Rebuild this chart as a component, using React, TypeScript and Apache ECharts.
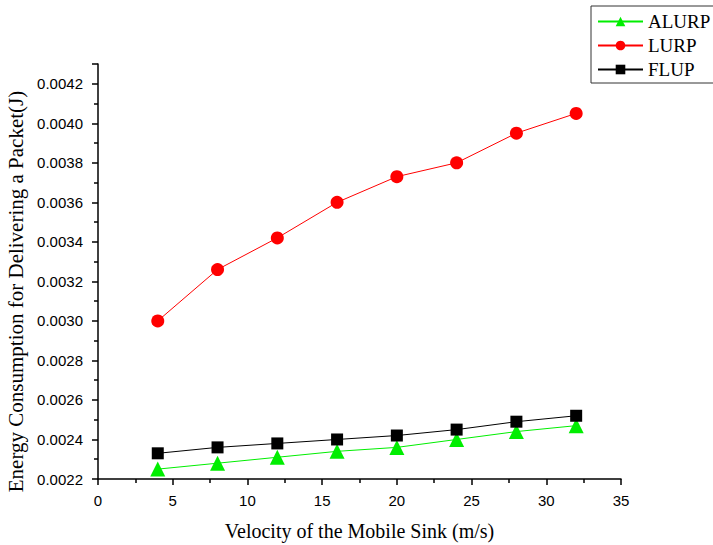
import React, { useEffect, useRef } from "react";
import * as echarts from "echarts";

const velocities = [4, 8, 12, 16, 20, 24, 28, 32];
const alurp = [0.00225, 0.00228, 0.00231, 0.00234, 0.00236, 0.0024, 0.00244, 0.00247];
const lurp = [0.003, 0.00326, 0.00342, 0.0036, 0.00373, 0.0038, 0.00395, 0.00405];
const flup = [0.00233, 0.00236, 0.00238, 0.0024, 0.00242, 0.00245, 0.00249, 0.00252];
const seriesNames = ["ALURP", "LURP", "FLUP"];

const pairs = (ys: number[]) => velocities.map((x, i) => [x, ys[i]]);

export default function App() {
  const ref = useRef<HTMLDivElement>(null);
  useEffect(() => {
    if (!ref.current) return;
    const chart = echarts.init(ref.current, undefined, { renderer: "svg" });
    const serif = "'Liberation Serif', 'Times New Roman', serif";
    const sans = "'Liberation Sans', Arial, sans-serif";
    chart.setOption({
      animation: false,
      backgroundColor: "#ffffff",
      grid: {
        left: 98,
        top: 64,
        right: 92,
        bottom: 66,
        containLabel: false,
        outerBoundsMode: "none",
      },
      graphic: [
        {
          type: "rect",
          shape: { x: 591, y: 6, width: 140, height: 77 },
          style: { fill: "none", stroke: "#333", lineWidth: 1 },
        },
      ],
      legend: {
        orient: "vertical",
        left: 592,
        top: 7,
        itemWidth: 45,
        itemHeight: 12,
        itemGap: 5,
        data: seriesNames,
        textStyle: { fontFamily: serif, fontSize: 19, color: "#000" },
      },
      xAxis: {
        type: "value",
        min: 0,
        max: 35,
        interval: 5,
        name: "Velocity of the Mobile Sink (m/s)",
        nameLocation: "middle",
        nameGap: 42,
        nameTextStyle: { fontFamily: serif, fontSize: 20, color: "#000" },
        axisLine: { show: true, lineStyle: { color: "#000", width: 1.5 } },
        axisTick: { show: true, length: 6, lineStyle: { color: "#000", width: 1.5 } },
        minorTick: { show: true, splitNumber: 2, length: 4, lineStyle: { color: "#000", width: 1.5 } },
        axisLabel: { fontFamily: sans, fontSize: 15, color: "#000", margin: 14 },
        splitLine: { show: false },
      },
      yAxis: {
        type: "value",
        min: 0.0022,
        max: 0.0043,
        interval: 0.0002,
        name: "Energy Consumption for Delivering a Packet(J)",
        nameLocation: "middle",
        nameGap: 70,
        nameTextStyle: { fontFamily: serif, fontSize: 21, color: "#000", padding: [0, 40, 0, 0] },
        axisLine: { show: true, lineStyle: { color: "#000", width: 1.5 } },
        axisTick: { show: true, length: 6, lineStyle: { color: "#000", width: 1.5 } },
        minorTick: { show: true, splitNumber: 2, length: 4, lineStyle: { color: "#000", width: 1.5 } },
        axisLabel: {
          fontFamily: sans,
          fontSize: 15,
          color: "#000",
          margin: 15,
          showMaxLabel: false,
          formatter: (v: number) => v.toFixed(4),
        },
        splitLine: { show: false },
      },
      series: [
        {
          name: "ALURP",
          type: "line",
          data: pairs(alurp),
          symbol: "triangle",
          symbolSize: 15,
          color: "#00ee00",
          lineStyle: { width: 1, color: "#00ee00" },
          itemStyle: { color: "#00ee00" },
        },
        {
          name: "LURP",
          type: "line",
          data: pairs(lurp),
          symbol: "circle",
          symbolSize: 13,
          color: "#ff0000",
          lineStyle: { width: 1, color: "#ff0000" },
          itemStyle: { color: "#ff0000" },
        },
        {
          name: "FLUP",
          type: "line",
          data: pairs(flup),
          symbol: "rect",
          symbolSize: 12,
          color: "#000000",
          lineStyle: { width: 1, color: "#000000" },
          itemStyle: { color: "#000000" },
        },
      ],
    });
    return () => chart.dispose();
  }, []);
  return <div ref={ref} style={{ width: 713, height: 545, position: "absolute", left: 0, top: 0 }} />;
}
